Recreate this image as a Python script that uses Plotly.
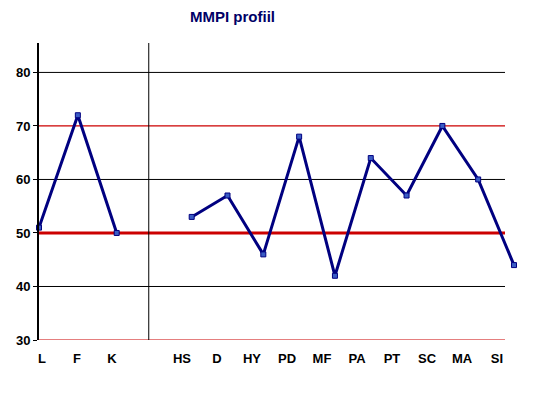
import plotly.graph_objects as go

# ---- data ----
validity_scales = ["L", "F", "K"]
validity_values = [51, 72, 50]
clinical_scales = ["HS", "D", "HY", "PD", "MF", "PA", "PT", "SC", "MA", "SI"]
clinical_values = [53, 57, 46, 68, 42, 64, 57, 70, 60, 44]
y_ticks = [30, 40, 50, 60, 70, 80]
red_levels = [30, 50, 70]
black_levels = [40, 60, 80]

# positions from category order (gap slot between the two groups)
x_valid = list(range(len(validity_scales)))
x_clin = [len(validity_scales) + 1 + i for i in range(len(clinical_scales))]

NAVY = "#000080"
RED = "#cc0000"
TICKFONT = dict(family="Liberation Sans Narrow, Arial Narrow, Liberation Sans, Arial", size=13, color="black", weight="bold")

fig = go.Figure()
marker = dict(symbol="square", size=5, color="#3a5cc4", line=dict(color=NAVY, width=1))
fig.add_trace(go.Scatter(x=x_valid, y=validity_values, mode="lines+markers",
                         line=dict(color=NAVY, width=3), marker=marker,
                         xaxis="x", yaxis="y", cliponaxis=False, showlegend=False))
fig.add_trace(go.Scatter(x=x_clin, y=clinical_values, mode="lines+markers",
                         line=dict(color=NAVY, width=3), marker=marker,
                         xaxis="x2", yaxis="y", cliponaxis=False, showlegend=False))

shapes = []
grid_end = (505 - 39) / 481
for lv in black_levels:
    shapes.append(dict(type="line", xref="paper", yref="y", x0=0, x1=grid_end, y0=lv, y1=lv,
                       line=dict(color="black", width=1), layer="below"))
for lv in red_levels:
    shapes.append(dict(type="line", xref="paper", yref="y", x0=0, x1=grid_end, y0=lv, y1=lv,
                       line=dict(color=RED, width=3 if lv == 50 else 1.2), layer="below"))
# separator between validity and clinical scales (the empty slot)
shapes.append(dict(type="line", xref="x3", yref="paper", x0=3.05, x1=3.05, y0=0, y1=1,
                   line=dict(color="black", width=1), layer="below"))

all_labels = validity_scales + clinical_scales
label_pos = x_valid + x_clin

fig.update_layout(
    width=536, height=396,
    margin=dict(l=31, r=24, t=35, b=64, autoexpand=False),
    paper_bgcolor="white", plot_bgcolor="white",
    shapes=shapes,
    xaxis=dict(range=[0, 481 / 38.85], visible=False, domain=[0, 1], automargin=False),
    xaxis2=dict(range=[4 - 152.7 / 35.81, 4 + 328.3 / 35.81], visible=False,
                overlaying="x", anchor="y", automargin=False),
    xaxis3=dict(range=[-3 / 35.0, 478 / 35.0], overlaying="x", anchor="y",
                tickmode="array", tickvals=label_pos, ticktext=all_labels,
                showline=False, showgrid=False, zeroline=False, ticks="",
                tickfont=TICKFONT, ticklabelstandoff=9, automargin=False),
    yaxis=dict(range=[30, 85.5], tickmode="array", tickvals=y_ticks,
               showgrid=False, zeroline=False, showline=True, linecolor="black", linewidth=2,
               ticks="outside", ticklen=4, tickcolor="black", tickwidth=1,
               tickfont=TICKFONT, automargin=False),
    annotations=[dict(text="<b>MMPI profiil</b>", xref="paper", yref="paper",
                      x=(232.5 - 39) / 481, y=1 + (43 - 16.5) / 297,
                      xanchor="center", yanchor="middle", showarrow=False,
                      font=dict(family="Liberation Sans, Arial", size=15, color="#000066"))],
)
fig.add_trace(go.Scatter(x=[None], y=[None], xaxis="x3", yaxis="y", showlegend=False))

fig.write_html("out.html")
